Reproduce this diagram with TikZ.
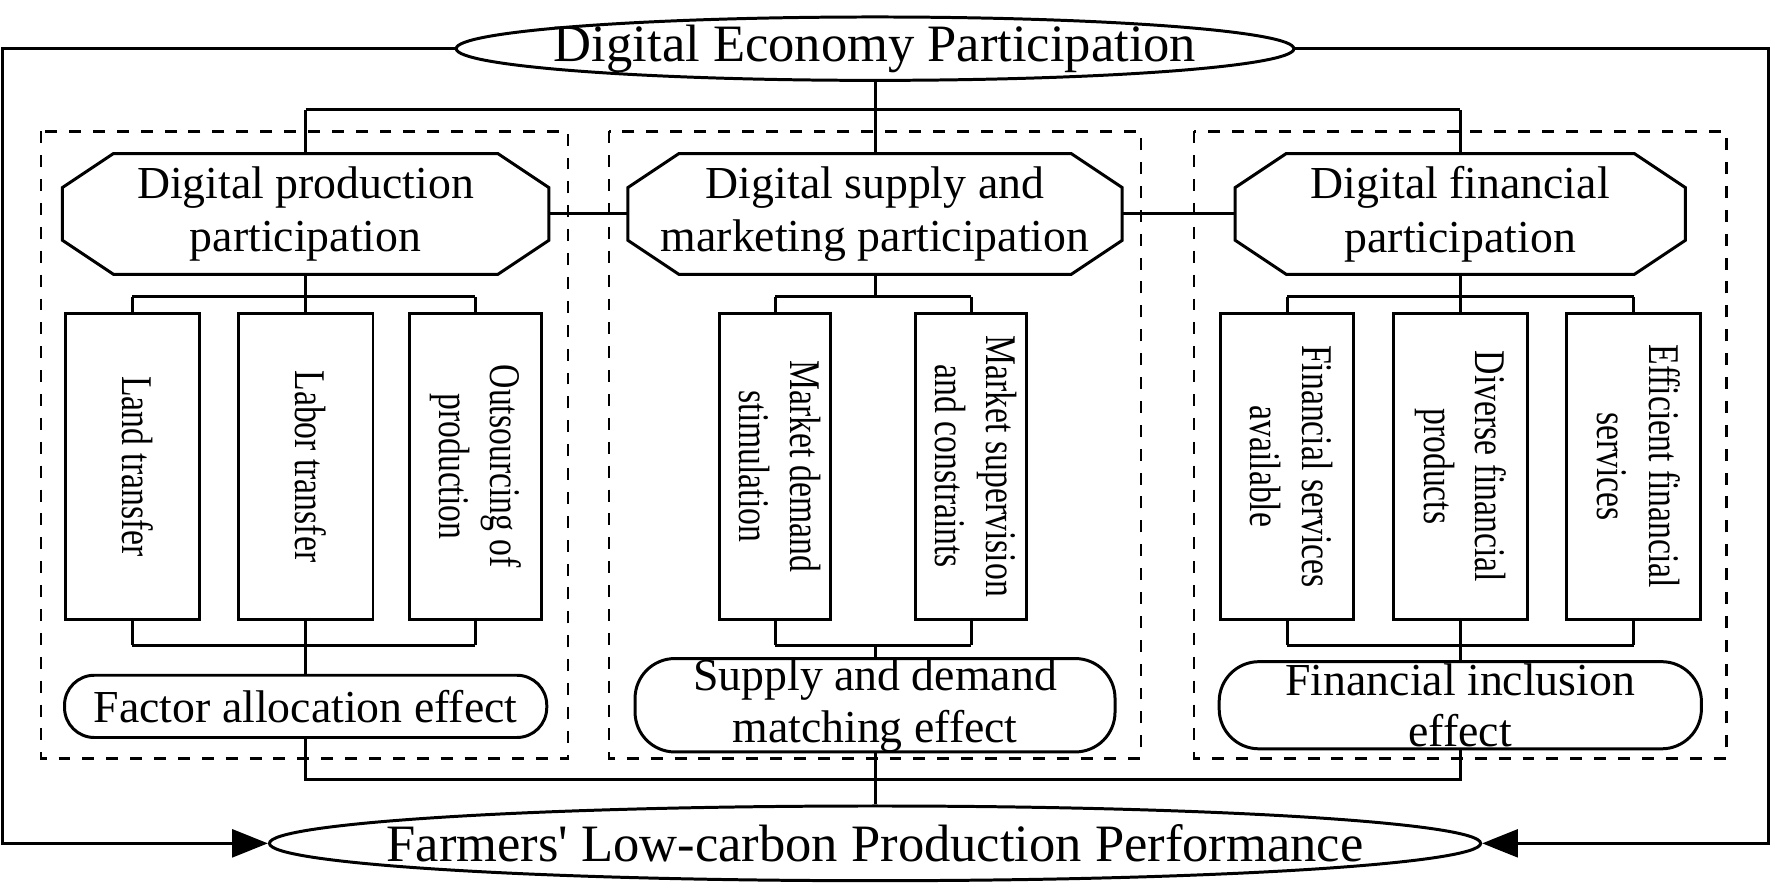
\documentclass[tikz,border=0pt]{standalone}
\usepackage{fontspec}
\setmainfont{Liberation Serif}
\usetikzlibrary{shapes.geometric,calc,arrows.meta}
\begin{document}
\begin{tikzpicture}[x=0.01cm,y=-0.01cm,line width=0.75pt,
  ell/.style={draw,ellipse,inner sep=0pt},
  bigtxt/.style={font=\fontsize{13.2}{16}\selectfont},
  oct/.style={rectangle,inner sep=0pt,align=center,font=\fontsize{11.5}{13.5}\selectfont},
  vbox/.style={draw,minimum width=#1,minimum height=270*0.01cm,inner sep=0pt},
  eff/.style={draw,inner sep=0pt,align=center,font=\fontsize{11.5}{13}\selectfont},
  dbox/.style={draw,dashed,line width=0.6pt},
  vt/.style={rotate=-90,align=center,inner sep=0pt,font=\fontsize{11}{13}\selectfont}]
\useasboundingbox (0,0) rectangle (1568,788);
\node[ell,minimum width=740*0.01cm,minimum height=56*0.01cm] (top) at (773,43) {};
\node[bigtxt] at (top.center) {Digital Economy Participation};
\node[ell,minimum width=1070*0.01cm,minimum height=66*0.01cm] (bot) at (773,745) {};
\node[bigtxt] at (bot.center) {Farmers\textquotesingle{} Low-carbon Production Performance};
\draw[dbox] (36,116) rectangle (502,670);
\draw[dbox] (538,116) rectangle (1008,670);
\draw[dbox] (1055,116) rectangle (1525,670);
\node[oct,minimum width=427*0.01cm,minimum height=104*0.01cm] (o1) at (270,189) {Digital production\\participation};
\node[oct,minimum width=434*0.01cm,minimum height=104*0.01cm] (o2) at (773,189) {Digital supply and\\marketing participation};
\node[oct,minimum width=395*0.01cm,minimum height=104*0.01cm] (o3) at (1290,189) {Digital financial\\participation};
\foreach \o in {o1,o2,o3}{
  \draw ($(\o.north west)+(45,0)$) -- ($(\o.north east)+(-45,0)$) -- ($(\o.north east)+(0,30)$) -- ($(\o.south east)+(0,-30)$)
   -- ($(\o.south east)+(-45,0)$) -- ($(\o.south west)+(45,0)$) -- ($(\o.south west)+(0,-30)$) -- ($(\o.north west)+(0,30)$) -- cycle;
}
\draw (top.south) -- (773,97) coordinate (tj);
\draw (270,97) -- (1290,97);
\draw (270,97) -- (o1.north); \draw (tj) -- (o2.north); \draw (1290,97) -- (o3.north);
\draw (o1.east) -- (o2.west); \draw (o2.east) -- (o3.west);
\foreach \n/\x/\w/\t in {a1/117/118/{Land transfer},a2/270/119/{Labor transfer},a3/420/117/{Outsourcing of\\production},
  b1/685/98/{Market demand\\stimulation},b2/858/98/{Market supervision\\and constraints},
  c1/1137/118/{Financial services\\available},c2/1290/118/{Diverse financial\\products},c3/1443/118/{Efficient financial\\services}}{
  \node[vbox=\w*0.01cm] (\n) at (\x,412) {};
  \node[vt] at (\n.center) {\scalebox{0.77}[1]{\begin{tabular}{@{}c@{}}\t\end{tabular}}};
}
\node[eff,rounded corners=7.5pt,minimum width=426*0.01cm,minimum height=55*0.01cm] (e1) at (270,624) {Factor allocation effect};
\node[eff,rounded corners=10pt,minimum width=424*0.01cm,minimum height=77*0.01cm] (e2) at (773,623) {Supply and demand\\matching effect};
\node[eff,rounded corners=10pt,minimum width=426*0.01cm,minimum height=77*0.01cm] (e3) at (1290,623) {Financial inclusion\\effect};
\draw (o1.south) -- (270,262); \draw (117,262) -- (420,262);
\foreach \n in {a1,a2,a3}{\draw (\n.north) -- (\n.north|-0,262); \draw (\n.south) -- (\n.south|-0,570);}
\draw (117,570) -- (420,570); \draw (270,570) -- (e1.north);
\draw (o2.south) -- (773,262); \draw (685,262) -- (858,262);
\foreach \n in {b1,b2}{\draw (\n.north) -- (\n.north|-0,262); \draw (\n.south) -- (\n.south|-0,570);}
\draw (685,570) -- (858,570); \draw (773,570) -- (e2.north);
\draw (o3.south) -- (1290,262); \draw (1137,262) -- (1443,262);
\foreach \n in {c1,c2,c3}{\draw (\n.north) -- (\n.north|-0,262); \draw (\n.south) -- (\n.south|-0,570);}
\draw (1137,570) -- (1443,570); \draw (1290,570) -- (e3.north);
\draw (e1.south) -- (270,689) -- (1290,689) -- (e3.south);
\draw (e2.south) -- (bot.north);
\draw[-{Triangle[length=9pt,width=7pt]}] (top.west) -- (2,43) -- (2,745) -- (bot.west);
\draw[-{Triangle[length=9pt,width=7pt]}] (top.east) -- (1562,43) -- (1562,745) -- (bot.east);
\end{tikzpicture}
\end{document}
